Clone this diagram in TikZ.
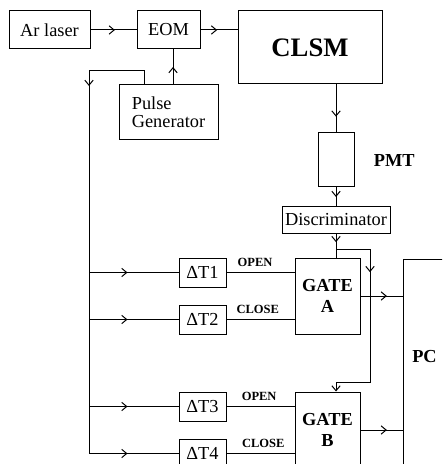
\documentclass[tikz,border=0pt]{standalone}
\usepackage{fontspec}
\setmainfont{Liberation Serif}
\usetikzlibrary{arrows.meta, positioning, decorations.markings}

\begin{document}
\begin{tikzpicture}[
  x=0.6pt, y=-0.6pt,
  font=\fontsize{11}{12.5}\selectfont,
  line width=0.6pt,
  >={Straight Barb[length=3pt, width=5pt]},
  box/.style 2 args={
    rectangle, draw, inner sep=0pt,
    minimum width=#1*0.6pt, minimum height=#2*0.6pt
  },
  gate/.style={
    box={65}{76}, align=center,
    font=\fontsize{11}{13}\selectfont\bfseries
  },
  sig/.style={font=\fontsize{7.5}{9}\selectfont\bfseries, inner sep=1pt},
  tag/.style={font=\fontsize{11}{12.5}\selectfont\bfseries},
  arr/.style={
    postaction={decorate},
    decoration={markings, mark=at position #1 with {\arrow{>}}}
  },
]
\useasboundingbox (0,0) rectangle (442,464);
\clip (0,0) rectangle (442,464);

% light path
\node[box={81}{38}]  (laser) at (49.5,30)  {Ar laser};
\node[box={63}{38}]  (eom)   at (168.5,30) {EOM};
\node[box={144}{73}, font=\fontsize{16}{18}\selectfont\bfseries]
                     (clsm)  at (310,47.5) {CLSM};
\node[box={99}{55}, align=left, font=\fontsize{11}{11}\selectfont]
                     (pulse) at (168.5,112.5) {Pulse\\Generator};

% detection
\node[box={36}{54}]  (pmt)   at (336,160) {};
\node[tag, right=8pt of pmt] (pmtlbl) {PMT};
\node[box={108}{26}] (disc)  at (336,220) {Discriminator};

% delays and gates
\node[box={47}{29}]  (dt1)   at (202.5,272.5) {ΔT1};
\node[box={47}{29}]  (dt2)   at (202.5,319.5) {ΔT2};
\node[box={47}{29}]  (dt3)   at (202.5,406.5) {ΔT3};
\node[box={47}{29}]  (dt4)   at (202.5,453.5) {ΔT4};
\node[gate] (gateA) at (327.5,296) {GATE\\A};
\node[gate] (gateB) at (327.5,430) {GATE\\B};
\node[draw, inner sep=0pt, anchor=north west, minimum width=25.2pt,
      text height=61.8pt, text depth=64.2pt, tag] (pc) at (403,259) {PC};

\coordinate (bustop) at (89,71);
\coordinate (busbot) at (bustop |- dt4.west);
\coordinate (tap)    at ([yshift=-9.6pt]disc.south);
\coordinate (loop)   at (370,382);

\draw[arr=0.53] (laser) -- (eom);
\draw[arr=0.45] (eom.east) -- (eom.east -| clsm.west);
\draw[arr=0.5]  ([xshift=2.7pt]pulse.north) -- ([xshift=2.7pt]eom.south);
\draw ([xshift=-14.7pt]pulse.north) |- (bustop);
\draw[arr=9pt]  (bustop) -- (busbot);

\draw[arr=0.43] (bustop |- dt1.west) -- (dt1.west);
\draw[arr=0.43] (bustop |- dt2.west) -- (dt2.west);
\draw[arr=0.43] (bustop |- dt3.west) -- (dt3.west);
\draw[arr=0.43] (busbot) -- (dt4.west);

\draw (dt1.east) -- (dt1.east -| gateA.west) node[sig, pos=0.42, above=2pt] {OPEN};
\draw (dt2.east) -- (dt2.east -| gateA.west) node[sig, pos=0.46, above=2pt] {CLOSE};
\draw (dt3.east) -- (dt3.east -| gateB.west) node[sig, pos=0.48, above=2pt] {OPEN};
\draw (dt4.east) -- (dt4.east -| gateB.west) node[sig, pos=0.54, above=2pt] {CLOSE};

\draw[arr=0.67] (clsm.south -| pmt) -- (pmt.north);
\draw[arr=0.5]  (pmt) -- (disc);
\draw[arr=0.36] (disc) -- (disc.south |- gateA.north);
\draw[arr=34pt, ->] (tap) -| (loop) -| (tap |- gateB.north);

\draw[arr=0.62] (gateA.east) -- (gateA.east -| pc.west);
\draw[arr=0.62] (gateB.east) -- (gateB.east -| pc.west);

\end{tikzpicture}
\end{document}
